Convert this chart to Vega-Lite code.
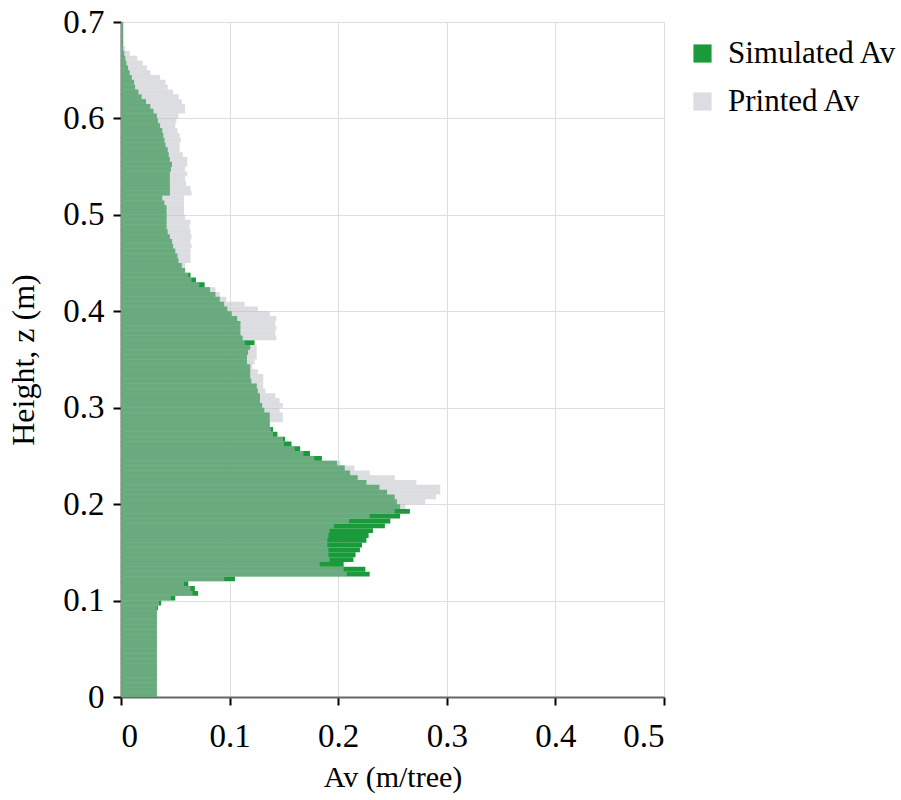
{
  "$schema": "https://vega.github.io/schema/vega-lite/v6.json",
  "autosize": {"type": "none"},
  "width": 543,
  "height": 675,
  "padding": {"left": 121, "top": 22, "right": 237, "bottom": 103},
  "background": "white",
  "config": {
    "font": "Liberation Serif",
    "view": {"stroke": null},
    "legend": {"labelFont": "Liberation Serif", "titleFont": "Liberation Serif"},
    "axis": {
      "labelFont": "Liberation Serif",
      "titleFont": "Liberation Serif",
      "labelColor": "black",
      "titleColor": "black",
      "titleFontWeight": "normal",
      "labelFontSize": 33,
      "titleFontSize": 31,
      "tickColor": "black",
      "tickWidth": 2,
      "tickSize": 8,
      "domainColor": "#666666",
      "domainWidth": 2,
      "gridColor": "#dedede",
      "gridWidth": 1
    }
  },
  "data": {
    "values": [
      {"z0": 0.000, "z1": 0.005, "sim": 0.033, "printed": 0.033},
      {"z0": 0.005, "z1": 0.010, "sim": 0.033, "printed": 0.033},
      {"z0": 0.010, "z1": 0.015, "sim": 0.033, "printed": 0.033},
      {"z0": 0.015, "z1": 0.020, "sim": 0.033, "printed": 0.033},
      {"z0": 0.020, "z1": 0.025, "sim": 0.033, "printed": 0.033},
      {"z0": 0.025, "z1": 0.030, "sim": 0.033, "printed": 0.033},
      {"z0": 0.030, "z1": 0.035, "sim": 0.033, "printed": 0.033},
      {"z0": 0.035, "z1": 0.040, "sim": 0.033, "printed": 0.033},
      {"z0": 0.040, "z1": 0.045, "sim": 0.033, "printed": 0.033},
      {"z0": 0.045, "z1": 0.050, "sim": 0.033, "printed": 0.033},
      {"z0": 0.050, "z1": 0.055, "sim": 0.033, "printed": 0.033},
      {"z0": 0.055, "z1": 0.060, "sim": 0.033, "printed": 0.033},
      {"z0": 0.060, "z1": 0.065, "sim": 0.033, "printed": 0.033},
      {"z0": 0.065, "z1": 0.070, "sim": 0.033, "printed": 0.033},
      {"z0": 0.070, "z1": 0.075, "sim": 0.033, "printed": 0.033},
      {"z0": 0.075, "z1": 0.080, "sim": 0.033, "printed": 0.033},
      {"z0": 0.080, "z1": 0.085, "sim": 0.033, "printed": 0.033},
      {"z0": 0.085, "z1": 0.090, "sim": 0.033, "printed": 0.033},
      {"z0": 0.090, "z1": 0.095, "sim": 0.034, "printed": 0.033},
      {"z0": 0.095, "z1": 0.100, "sim": 0.037, "printed": 0.035},
      {"z0": 0.100, "z1": 0.105, "sim": 0.050, "printed": 0.046},
      {"z0": 0.105, "z1": 0.110, "sim": 0.071, "printed": 0.066},
      {"z0": 0.110, "z1": 0.115, "sim": 0.068, "printed": 0.064},
      {"z0": 0.115, "z1": 0.120, "sim": 0.062, "printed": 0.058},
      {"z0": 0.120, "z1": 0.125, "sim": 0.105, "printed": 0.095},
      {"z0": 0.125, "z1": 0.130, "sim": 0.229, "printed": 0.208},
      {"z0": 0.130, "z1": 0.135, "sim": 0.225, "printed": 0.205},
      {"z0": 0.135, "z1": 0.140, "sim": 0.205, "printed": 0.183},
      {"z0": 0.140, "z1": 0.145, "sim": 0.214, "printed": 0.192},
      {"z0": 0.145, "z1": 0.150, "sim": 0.216, "printed": 0.191},
      {"z0": 0.150, "z1": 0.155, "sim": 0.220, "printed": 0.191},
      {"z0": 0.155, "z1": 0.160, "sim": 0.222, "printed": 0.190},
      {"z0": 0.160, "z1": 0.165, "sim": 0.226, "printed": 0.190},
      {"z0": 0.165, "z1": 0.170, "sim": 0.228, "printed": 0.191},
      {"z0": 0.170, "z1": 0.175, "sim": 0.232, "printed": 0.192},
      {"z0": 0.175, "z1": 0.180, "sim": 0.243, "printed": 0.196},
      {"z0": 0.180, "z1": 0.185, "sim": 0.248, "printed": 0.210},
      {"z0": 0.185, "z1": 0.190, "sim": 0.257, "printed": 0.229},
      {"z0": 0.190, "z1": 0.195, "sim": 0.266, "printed": 0.252},
      {"z0": 0.195, "z1": 0.200, "sim": 0.257, "printed": 0.262},
      {"z0": 0.200, "z1": 0.205, "sim": 0.254, "printed": 0.280},
      {"z0": 0.205, "z1": 0.210, "sim": 0.252, "printed": 0.290},
      {"z0": 0.210, "z1": 0.215, "sim": 0.245, "printed": 0.294},
      {"z0": 0.215, "z1": 0.220, "sim": 0.238, "printed": 0.294},
      {"z0": 0.220, "z1": 0.225, "sim": 0.226, "printed": 0.272},
      {"z0": 0.225, "z1": 0.230, "sim": 0.218, "printed": 0.252},
      {"z0": 0.230, "z1": 0.235, "sim": 0.211, "printed": 0.229},
      {"z0": 0.235, "z1": 0.240, "sim": 0.206, "printed": 0.215},
      {"z0": 0.240, "z1": 0.245, "sim": 0.199, "printed": 0.202},
      {"z0": 0.245, "z1": 0.250, "sim": 0.185, "printed": 0.178},
      {"z0": 0.250, "z1": 0.255, "sim": 0.174, "printed": 0.168},
      {"z0": 0.255, "z1": 0.260, "sim": 0.165, "printed": 0.160},
      {"z0": 0.260, "z1": 0.265, "sim": 0.157, "printed": 0.150},
      {"z0": 0.265, "z1": 0.270, "sim": 0.151, "printed": 0.149},
      {"z0": 0.270, "z1": 0.275, "sim": 0.144, "printed": 0.140},
      {"z0": 0.275, "z1": 0.280, "sim": 0.140, "printed": 0.138},
      {"z0": 0.280, "z1": 0.285, "sim": 0.137, "printed": 0.137},
      {"z0": 0.285, "z1": 0.290, "sim": 0.137, "printed": 0.149},
      {"z0": 0.290, "z1": 0.295, "sim": 0.137, "printed": 0.149},
      {"z0": 0.295, "z1": 0.300, "sim": 0.132, "printed": 0.146},
      {"z0": 0.300, "z1": 0.305, "sim": 0.130, "printed": 0.149},
      {"z0": 0.305, "z1": 0.310, "sim": 0.128, "printed": 0.146},
      {"z0": 0.310, "z1": 0.315, "sim": 0.128, "printed": 0.142},
      {"z0": 0.315, "z1": 0.320, "sim": 0.126, "printed": 0.133},
      {"z0": 0.320, "z1": 0.325, "sim": 0.125, "printed": 0.131},
      {"z0": 0.325, "z1": 0.330, "sim": 0.120, "printed": 0.131},
      {"z0": 0.330, "z1": 0.335, "sim": 0.119, "printed": 0.131},
      {"z0": 0.335, "z1": 0.340, "sim": 0.119, "printed": 0.126},
      {"z0": 0.340, "z1": 0.345, "sim": 0.119, "printed": 0.121},
      {"z0": 0.345, "z1": 0.350, "sim": 0.116, "printed": 0.123},
      {"z0": 0.350, "z1": 0.355, "sim": 0.116, "printed": 0.125},
      {"z0": 0.355, "z1": 0.360, "sim": 0.117, "printed": 0.125},
      {"z0": 0.360, "z1": 0.365, "sim": 0.119, "printed": 0.125},
      {"z0": 0.365, "z1": 0.370, "sim": 0.123, "printed": 0.114},
      {"z0": 0.370, "z1": 0.375, "sim": 0.112, "printed": 0.143},
      {"z0": 0.375, "z1": 0.380, "sim": 0.110, "printed": 0.142},
      {"z0": 0.380, "z1": 0.385, "sim": 0.110, "printed": 0.143},
      {"z0": 0.385, "z1": 0.390, "sim": 0.110, "printed": 0.142},
      {"z0": 0.390, "z1": 0.395, "sim": 0.107, "printed": 0.143},
      {"z0": 0.395, "z1": 0.400, "sim": 0.102, "printed": 0.137},
      {"z0": 0.400, "z1": 0.405, "sim": 0.098, "printed": 0.126},
      {"z0": 0.405, "z1": 0.410, "sim": 0.095, "printed": 0.114},
      {"z0": 0.410, "z1": 0.415, "sim": 0.091, "printed": 0.097},
      {"z0": 0.415, "z1": 0.420, "sim": 0.087, "printed": 0.091},
      {"z0": 0.420, "z1": 0.425, "sim": 0.082, "printed": 0.087},
      {"z0": 0.425, "z1": 0.430, "sim": 0.077, "printed": 0.072},
      {"z0": 0.430, "z1": 0.435, "sim": 0.069, "printed": 0.065},
      {"z0": 0.435, "z1": 0.440, "sim": 0.064, "printed": 0.062},
      {"z0": 0.440, "z1": 0.445, "sim": 0.059, "printed": 0.059},
      {"z0": 0.445, "z1": 0.450, "sim": 0.056, "printed": 0.059},
      {"z0": 0.450, "z1": 0.455, "sim": 0.053, "printed": 0.064},
      {"z0": 0.455, "z1": 0.460, "sim": 0.052, "printed": 0.064},
      {"z0": 0.460, "z1": 0.465, "sim": 0.050, "printed": 0.064},
      {"z0": 0.465, "z1": 0.470, "sim": 0.048, "printed": 0.065},
      {"z0": 0.470, "z1": 0.475, "sim": 0.047, "printed": 0.064},
      {"z0": 0.475, "z1": 0.480, "sim": 0.045, "printed": 0.065},
      {"z0": 0.480, "z1": 0.485, "sim": 0.043, "printed": 0.064},
      {"z0": 0.485, "z1": 0.490, "sim": 0.042, "printed": 0.063},
      {"z0": 0.490, "z1": 0.495, "sim": 0.042, "printed": 0.064},
      {"z0": 0.495, "z1": 0.500, "sim": 0.042, "printed": 0.059},
      {"z0": 0.500, "z1": 0.505, "sim": 0.042, "printed": 0.058},
      {"z0": 0.505, "z1": 0.510, "sim": 0.042, "printed": 0.058},
      {"z0": 0.510, "z1": 0.515, "sim": 0.040, "printed": 0.058},
      {"z0": 0.515, "z1": 0.520, "sim": 0.038, "printed": 0.058},
      {"z0": 0.520, "z1": 0.525, "sim": 0.045, "printed": 0.065},
      {"z0": 0.525, "z1": 0.530, "sim": 0.045, "printed": 0.064},
      {"z0": 0.530, "z1": 0.535, "sim": 0.045, "printed": 0.060},
      {"z0": 0.535, "z1": 0.540, "sim": 0.045, "printed": 0.059},
      {"z0": 0.540, "z1": 0.545, "sim": 0.045, "printed": 0.061},
      {"z0": 0.545, "z1": 0.550, "sim": 0.046, "printed": 0.059},
      {"z0": 0.550, "z1": 0.555, "sim": 0.047, "printed": 0.061},
      {"z0": 0.555, "z1": 0.560, "sim": 0.045, "printed": 0.061},
      {"z0": 0.560, "z1": 0.565, "sim": 0.044, "printed": 0.057},
      {"z0": 0.565, "z1": 0.570, "sim": 0.043, "printed": 0.054},
      {"z0": 0.570, "z1": 0.575, "sim": 0.041, "printed": 0.054},
      {"z0": 0.575, "z1": 0.580, "sim": 0.040, "printed": 0.055},
      {"z0": 0.580, "z1": 0.585, "sim": 0.039, "printed": 0.054},
      {"z0": 0.585, "z1": 0.590, "sim": 0.038, "printed": 0.052},
      {"z0": 0.590, "z1": 0.595, "sim": 0.036, "printed": 0.050},
      {"z0": 0.595, "z1": 0.600, "sim": 0.034, "printed": 0.051},
      {"z0": 0.600, "z1": 0.605, "sim": 0.033, "printed": 0.053},
      {"z0": 0.605, "z1": 0.610, "sim": 0.030, "printed": 0.059},
      {"z0": 0.610, "z1": 0.615, "sim": 0.027, "printed": 0.059},
      {"z0": 0.615, "z1": 0.620, "sim": 0.023, "printed": 0.056},
      {"z0": 0.620, "z1": 0.625, "sim": 0.019, "printed": 0.053},
      {"z0": 0.625, "z1": 0.630, "sim": 0.016, "printed": 0.048},
      {"z0": 0.630, "z1": 0.635, "sim": 0.013, "printed": 0.043},
      {"z0": 0.635, "z1": 0.640, "sim": 0.012, "printed": 0.041},
      {"z0": 0.640, "z1": 0.645, "sim": 0.010, "printed": 0.036},
      {"z0": 0.645, "z1": 0.650, "sim": 0.008, "printed": 0.027},
      {"z0": 0.650, "z1": 0.655, "sim": 0.0065, "printed": 0.024},
      {"z0": 0.655, "z1": 0.660, "sim": 0.005, "printed": 0.020},
      {"z0": 0.660, "z1": 0.665, "sim": 0.004, "printed": 0.015},
      {"z0": 0.665, "z1": 0.670, "sim": 0.003, "printed": 0.008},
      {"z0": 0.670, "z1": 0.675, "sim": 0.002, "printed": 0.004},
      {"z0": 0.675, "z1": 0.680, "sim": 0.002, "printed": 0.002},
      {"z0": 0.680, "z1": 0.685, "sim": 0.002, "printed": 0.002},
      {"z0": 0.685, "z1": 0.690, "sim": 0.002, "printed": 0.002},
      {"z0": 0.690, "z1": 0.695, "sim": 0.002, "printed": 0.002},
      {"z0": 0.695, "z1": 0.700, "sim": 0.002, "printed": 0.002}
    ]
  },
  "transform": [
    {"fold": ["sim", "printed"], "as": ["series", "av"]}
  ],
  "mark": {"type": "rect", "strokeWidth": 0},
  "encoding": {
    "x": {
      "field": "av",
      "type": "quantitative",
      "scale": {"domain": [0, 0.5], "nice": false},
      "axis": {
        "title": "Av (m/tree)",
        "titleFontSize": 30,
        "labelFont": "Liberation Serif",
        "titleFont": "Liberation Serif",
        "values": [0, 0.1, 0.2, 0.3, 0.4, 0.5],
        "format": "~g",
        "labelPadding": 15,
        "titlePadding": 9
      }
    },
    "x2": {"datum": 0},
    "y": {
      "field": "z0",
      "type": "quantitative",
      "scale": {"domain": [0, 0.7], "nice": false},
      "axis": {
        "title": "Height, z (m)",
        "titleFontSize": 32,
        "labelFont": "Liberation Serif",
        "titleFont": "Liberation Serif",
        "values": [0, 0.1, 0.2, 0.3, 0.4, 0.5, 0.6, 0.7],
        "format": "~g",
        "labelPadding": 9,
        "titlePadding": 22
      }
    },
    "y2": {"field": "z1"},
    "color": {
      "field": "series",
      "type": "nominal",
      "scale": {"domain": ["sim", "printed"], "range": ["#1b9a3b", "#b8bcc2"]},
      "legend": {
        "title": null,
        "orient": "none",
        "legendX": 566,
        "legendY": 16,
        "symbolType": "square",
        "symbolSize": 330,
        "symbolStrokeWidth": 0,
        "labelFont": "Liberation Serif",
        "labelFontSize": 31,
        "labelColor": "black",
        "labelLimit": 400,
        "labelOffset": 10,
        "rowPadding": 16,
        "labelExpr": "datum.value == 'sim' ? 'Simulated Av' : 'Printed Av'"
      }
    },
    "opacity": {
      "field": "series",
      "type": "nominal",
      "scale": {"domain": ["sim", "printed"], "range": [1, 0.5]},
      "legend": {
        "title": null,
        "orient": "none",
        "legendX": 566,
        "legendY": 16,
        "symbolType": "square",
        "symbolSize": 330,
        "symbolStrokeWidth": 0,
        "labelFont": "Liberation Serif",
        "labelFontSize": 31,
        "labelColor": "black",
        "labelLimit": 400,
        "labelOffset": 10,
        "rowPadding": 16,
        "labelExpr": "datum.value == 'sim' ? 'Simulated Av' : 'Printed Av'"
      }
    }
  }
}
